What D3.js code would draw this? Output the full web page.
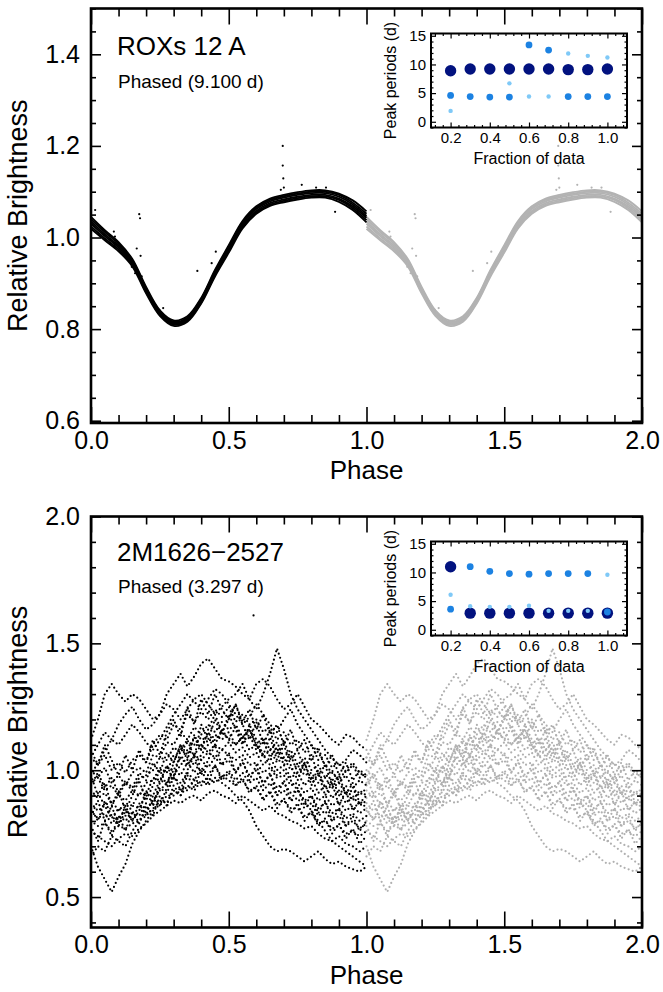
<!DOCTYPE html>
<html><head><meta charset="utf-8">
<script src="https://cdn.jsdelivr.net/npm/d3@7"></script>
<style>
html,body{margin:0;padding:0;background:#fff;}
svg{display:block;}
text{font-family:"Liberation Sans",Arial,Helvetica,sans-serif;fill:#000;}
</style></head><body>
<svg width="663" height="992"></svg>
<script>
// ================= DATA =================
// --- panel 1: ROXs 12 A, phased 9.100 d (several cycles forming a tight band)
const topTitle = "ROXs 12 A";
const topSub = "Phased (9.100 d)";
const topPhase = [0,0.05,0.1,0.15,0.2,0.25,0.3,0.35,0.4,0.45,0.5,0.55,0.6,0.65,0.7,0.75,0.8,0.85,0.9,0.95,1.0];
const topCycle1 = [1.045,1.016,0.990,0.953,0.892,0.841,0.819,0.828,0.868,0.929,0.983,1.036,1.068,1.085,1.093,1.099,1.103,1.103,1.096,1.081,1.057];
const topCycle2 = [1.040,1.012,0.986,0.950,0.889,0.839,0.816,0.825,0.866,0.926,0.980,1.033,1.065,1.082,1.090,1.096,1.100,1.100,1.093,1.076,1.052];
const topCycle3 = [1.035,1.007,0.982,0.947,0.886,0.836,0.814,0.823,0.863,0.923,0.977,1.030,1.062,1.079,1.087,1.093,1.097,1.097,1.089,1.072,1.047];
const topCycle4 = [1.030,1.003,0.978,0.943,0.884,0.834,0.812,0.821,0.861,0.921,0.973,1.026,1.058,1.075,1.083,1.089,1.093,1.093,1.085,1.068,1.043];
const topCycle5 = [1.024,0.998,0.974,0.940,0.881,0.831,0.810,0.819,0.858,0.918,0.970,1.023,1.055,1.072,1.080,1.086,1.090,1.090,1.082,1.064,1.038];
const topCycle6 = [1.019,0.994,0.970,0.937,0.878,0.829,0.807,0.816,0.856,0.915,0.967,1.020,1.052,1.069,1.077,1.083,1.087,1.087,1.078,1.060,1.033];
const topOutPhase = [0.696,0.696,0.698,0.700,0.689,0.175,0.178,0.166,0.180,0.083,0.087,0.015,0.136,0.148,0.160,0.184,0.190,0.204,0.248,0.262,0.386,0.453,0.438,0.765,0.817,0.853,0.886];
const topOutValue = [1.200,1.157,1.129,1.109,1.104,1.051,1.042,0.976,0.960,1.013,1.002,1.060,0.951,0.936,0.922,0.915,0.900,0.878,0.842,0.846,0.927,0.969,0.944,1.115,1.109,1.109,1.056];
const topYTicks = [0.6,0.8,1.0,1.2,1.4];

// inset 1: peak periods vs fraction of data
const fractions = [0.2,0.3,0.4,0.5,0.6,0.7,0.8,0.9,1.0];
const topPeak1 = [8.9,9.2,9.2,9.2,9.2,9.2,9.1,9.1,9.2];
const topPeak2 = [4.6,4.4,4.3,4.3,13.4,12.5,4.4,4.4,4.4];
const topPeak3 = [1.9,null,null,6.7,4.4,4.4,11.9,11.5,11.2];

// --- panel 2: 2M1626-2527, phased 3.297 d (noisy cycles)
const botTitle = "2M1626\u22122527";
const botSub = "Phased (3.297 d)";
const botPhase = [0,0.025,0.05,0.075,0.1,0.125,0.15,0.175,0.2,0.225,0.25,0.275,0.3,0.325,0.35,0.375,0.4,0.425,0.45,0.475,0.5,0.525,0.55,0.575,0.6,0.625,0.65,0.675,0.7,0.725,0.75,0.775,0.8,0.825,0.85,0.875,0.9,0.925,0.95,0.975,1.0];
const botCycleA = [1.12,1.20,1.30,1.34,1.30,1.27,1.30,1.28,1.24,1.20,1.22,1.30,1.34,1.38,1.33,1.37,1.42,1.44,1.40,1.36,1.35,1.33,1.30,1.28,1.34,1.36,1.33,1.28,1.24,1.26,1.30,1.25,1.20,1.18,1.15,1.12,1.10,1.14,1.13,1.10,1.08];
const botCycleB = [1.05,1.10,1.15,1.12,1.18,1.22,1.25,1.20,1.16,1.18,1.22,1.26,1.24,1.20,1.24,1.28,1.30,1.26,1.22,1.25,1.28,1.30,1.34,1.28,1.24,1.30,1.38,1.48,1.40,1.30,1.24,1.20,1.16,1.12,1.08,1.05,1.02,1.04,1.08,1.06,1.03];
const botCycleC = [1.05,1.02,1.06,1.00,1.03,0.99,1.04,1.06,1.03,1.10,1.14,1.12,1.18,1.16,1.22,1.19,1.23,1.20,1.24,1.21,1.25,1.19,1.22,1.18,1.20,1.15,1.17,1.12,1.15,1.10,1.12,1.07,1.10,1.04,1.06,1.01,1.03,0.99,1.02,0.97,0.99];
const botCycleD = [1.00,0.97,1.01,0.95,0.98,0.94,0.99,1.01,0.99,1.06,1.05,1.11,1.10,1.15,1.12,1.17,1.14,1.18,1.15,1.19,1.16,1.18,1.13,1.16,1.10,1.13,1.08,1.11,1.05,1.08,1.02,1.05,1.00,1.02,0.97,1.00,0.95,0.98,0.93,0.96,0.94];
const botCycleE = [0.95,0.97,0.92,0.94,0.90,0.95,0.92,0.97,0.98,1.00,1.05,1.04,1.09,1.07,1.11,1.10,1.13,1.11,1.14,1.12,1.15,1.10,1.13,1.08,1.10,1.05,1.08,1.03,1.05,1.00,1.02,0.98,0.99,0.95,0.97,0.93,0.95,0.91,0.92,0.90,0.93];
const botCycleF = [0.92,0.89,0.91,0.87,0.90,0.88,0.92,0.90,0.95,0.96,1.01,0.99,1.06,1.04,1.08,1.06,1.10,1.07,1.10,1.08,1.11,1.07,1.09,1.05,1.07,1.02,1.05,1.00,1.02,0.97,0.99,0.94,0.97,0.91,0.94,0.89,0.92,0.87,0.90,0.86,0.88];
const botCycleG = [0.89,0.91,0.86,0.88,0.84,0.87,0.86,0.91,0.90,0.97,0.96,1.01,1.00,1.05,1.02,1.06,1.04,1.07,1.05,1.08,1.06,1.04,1.06,1.02,1.03,0.99,1.01,0.97,0.98,0.94,0.95,0.91,0.93,0.88,0.90,0.86,0.88,0.84,0.86,0.83,0.85];
const botCycleH = [0.87,0.84,0.86,0.81,0.85,0.82,0.86,0.85,0.90,0.90,0.96,0.95,1.00,0.98,1.03,0.99,1.04,1.01,1.05,1.02,1.04,0.99,1.03,0.98,1.00,0.95,0.98,0.93,0.95,0.91,0.92,0.88,0.90,0.85,0.87,0.83,0.85,0.81,0.83,0.80,0.82];
const botCycleI = [0.84,0.81,0.83,0.79,0.82,0.80,0.83,0.82,0.87,0.86,0.93,0.91,0.97,0.95,0.99,0.96,1.01,0.98,1.02,0.97,1.00,0.96,0.99,0.95,0.97,0.92,0.95,0.90,0.92,0.88,0.89,0.85,0.87,0.82,0.84,0.80,0.82,0.78,0.80,0.77,0.79];
const botCycleJ = [0.80,0.78,0.79,0.76,0.78,0.77,0.79,0.80,0.82,0.85,0.86,0.90,0.90,0.93,0.92,0.96,0.94,0.97,0.95,0.98,0.96,0.94,0.96,0.92,0.93,0.89,0.91,0.87,0.88,0.85,0.85,0.82,0.83,0.79,0.80,0.77,0.78,0.75,0.76,0.74,0.76];
const botCycleK = [0.70,0.62,0.57,0.52,0.58,0.63,0.71,0.76,0.80,0.84,0.88,0.87,0.92,0.90,0.94,0.92,0.96,0.94,0.97,0.95,0.93,0.90,0.88,0.84,0.78,0.74,0.70,0.68,0.69,0.68,0.66,0.64,0.66,0.68,0.65,0.63,0.64,0.62,0.61,0.60,0.62];
const botCycleL = [0.98,1.03,1.08,1.12,1.10,1.14,1.18,1.15,1.11,1.08,1.12,1.17,1.22,1.26,1.30,1.27,1.24,1.28,1.32,1.30,1.26,1.22,1.18,1.21,1.26,1.22,1.18,1.15,1.20,1.24,1.18,1.14,1.10,1.07,1.02,0.99,0.96,1.00,1.03,0.99,0.97];
const botCycleM = [0.76,0.74,0.72,0.70,0.73,0.75,0.74,0.77,0.79,0.82,0.84,0.86,0.88,0.87,0.89,0.90,0.88,0.91,0.92,0.90,0.89,0.87,0.90,0.88,0.86,0.84,0.86,0.83,0.82,0.80,0.79,0.77,0.78,0.75,0.73,0.72,0.74,0.71,0.70,0.68,0.70];
const botCycleN = [0.66,0.70,0.68,0.74,0.72,0.70,0.76,0.80,0.84,0.88,0.92,0.95,0.98,1.02,1.05,1.02,1.06,1.10,1.12,1.15,1.12,1.10,1.13,1.16,1.10,1.06,1.02,0.98,1.00,0.96,0.92,0.88,0.84,0.80,0.76,0.72,0.70,0.68,0.66,0.64,0.62];
const botCycleO = [0.85,0.80,0.88,0.82,0.79,0.86,0.80,0.84,0.92,0.86,0.95,1.02,0.96,1.08,1.12,1.05,1.18,1.12,1.20,1.14,1.22,1.16,1.10,1.18,1.12,1.06,1.13,1.04,1.10,1.02,0.96,1.03,0.94,0.99,0.90,0.95,0.86,0.92,0.84,0.88,0.85];
const botCycleP = [0.98,0.90,0.95,0.86,0.92,0.84,0.90,0.96,0.88,0.94,1.00,0.94,1.03,1.10,1.04,1.14,1.08,1.16,1.22,1.15,1.20,1.26,1.18,1.12,1.19,1.10,1.16,1.06,1.12,1.04,1.08,1.00,1.06,0.98,1.02,0.94,0.98,0.90,0.95,0.87,0.90];
const botCycleQ = [0.82,0.88,0.80,0.86,0.78,0.84,0.80,0.87,0.82,0.90,0.86,0.93,0.98,0.92,1.00,1.06,0.98,1.04,1.10,1.02,1.07,0.99,1.04,0.96,1.02,0.94,0.99,0.90,0.96,0.88,0.93,0.86,0.90,0.83,0.88,0.80,0.85,0.78,0.82,0.76,0.80];
const botCycleR = [1.08,1.02,1.10,1.04,0.98,1.06,1.00,1.08,1.03,1.12,1.06,1.15,1.20,1.13,1.25,1.18,1.28,1.22,1.30,1.24,1.20,1.26,1.19,1.24,1.16,1.22,1.14,1.18,1.10,1.16,1.08,1.12,1.04,1.09,1.01,1.06,0.98,1.03,0.96,1.00,0.98];
const botCycleS = [0.78,0.72,0.80,0.74,0.82,0.76,0.84,0.79,0.86,0.82,0.90,0.86,0.94,0.90,0.98,0.93,1.00,0.95,1.02,0.96,0.99,0.94,0.97,0.91,0.94,0.88,0.92,0.85,0.89,0.83,0.87,0.80,0.84,0.78,0.81,0.75,0.79,0.73,0.77,0.71,0.74];
const botCycleT = [0.94,0.99,0.93,0.97,0.91,0.96,0.93,0.99,0.96,1.03,0.99,1.07,1.03,1.10,1.06,1.13,1.08,1.15,1.10,1.16,1.12,1.17,1.11,1.14,1.08,1.12,1.05,1.09,1.02,1.06,0.99,1.03,0.96,1.00,0.93,0.97,0.90,0.94,0.88,0.92,0.90];
const botOutPhase = [0.59];
const botOutValue = [1.61];
const botYTicks = [0.5,1.0,1.5,2.0];

// inset 2
const botPeak1 = [11.0,2.9,2.9,2.9,2.9,2.9,2.9,2.9,2.9];
const botPeak2 = [3.6,11.0,10.2,9.8,9.7,9.8,9.8,9.8,3.1];
const botPeak3 = [6.1,4.1,4.0,4.0,4.2,3.3,3.3,3.3,9.6];

// shared ticks
const phaseTicks = [0,0.5,1.0,1.5,2.0];
const fracTicks = [0.2,0.4,0.6,0.8,1.0];
const periodTicks = [0,5,10,15];

// ================= DRAWING =================
const svg = d3.select("svg");
const X0 = 91, X1 = 642;
const GRAY = "#b3b3b3";
const NAVY = "#02127f", BLUE = "#1c82e2", LIGHT = "#7fc9f7";

function axesBox(g, x, y, opt) {
  const [yb, yt] = y.range();
  const [xa, xb] = x.range();
  const xMinor = d3.range(opt.xMinLo, opt.xMinHi + 1e-9, opt.xMinStep).filter(v => !opt.xTicks.some(t => Math.abs(t - v) < 1e-6));
  const yMinor = d3.range(opt.yMinLo, opt.yMinHi + 1e-9, opt.yMinStep).filter(v => !opt.yTicks.some(t => Math.abs(t - v) < 1e-6) && v >= y.domain()[0] - 1e-9 && v <= y.domain()[1] + 1e-9);
  const style = sel => { sel.select(".domain").remove(); sel.selectAll("line").attr("stroke", "#000").attr("stroke-width", opt.tsw); sel.selectAll("text").attr("font-size", opt.fs).attr("font-family", "Liberation Sans, Arial, sans-serif").attr("fill", "#000"); };
  g.append("g").attr("transform", `translate(0,${yb})`)
    .call(d3.axisBottom(x).tickValues(opt.xTicks).tickSize(-opt.xl).tickPadding(opt.xpad).tickFormat(opt.xfmt)).call(style);
  g.append("g").attr("transform", `translate(0,${yb})`)
    .call(d3.axisBottom(x).tickValues(xMinor).tickSize(-opt.xml).tickFormat("")).call(style);
  g.append("g").attr("transform", `translate(0,${yt})`)
    .call(d3.axisTop(x).tickValues(opt.xTicks).tickSize(-opt.xl).tickFormat("")).call(style);
  g.append("g").attr("transform", `translate(0,${yt})`)
    .call(d3.axisTop(x).tickValues(xMinor).tickSize(-opt.xml).tickFormat("")).call(style);
  g.append("g").attr("transform", `translate(${xa},0)`)
    .call(d3.axisLeft(y).tickValues(opt.yTicks).tickSize(-opt.yl).tickPadding(opt.ypad).tickFormat(opt.yfmt)).call(style);
  g.append("g").attr("transform", `translate(${xa},0)`)
    .call(d3.axisLeft(y).tickValues(yMinor).tickSize(-opt.yml).tickFormat("")).call(style);
  g.append("g").attr("transform", `translate(${xb},0)`)
    .call(d3.axisRight(y).tickValues(opt.yTicks).tickSize(-opt.yl).tickFormat("")).call(style);
  g.append("g").attr("transform", `translate(${xb},0)`)
    .call(d3.axisRight(y).tickValues(yMinor).tickSize(-opt.yml).tickFormat("")).call(style);
  g.append("rect").attr("x", xa).attr("y", yt).attr("width", xb - xa).attr("height", yb - yt)
    .attr("fill", "none").attr("stroke", "#000").attr("stroke-width", opt.bsw);
}

function mainPanel(cfg) {
  const g = svg.append("g");
  const x = d3.scaleLinear().domain([0, 2]).range([X0, X1]);
  const y = d3.scaleLinear().domain(cfg.yDomain).range(cfg.yRange);
  const clipId = "clip" + cfg.id;
  svg.append("defs").append("clipPath").attr("id", clipId).append("rect")
    .attr("x", X0).attr("y", cfg.yRange[1]).attr("width", X1 - X0).attr("height", cfg.yRange[0] - cfg.yRange[1]);
  const data = g.append("g").attr("clip-path", `url(#${clipId})`);
  cfg.drawData(data, x, y);
  axesBox(g, x, y, {
    xTicks: phaseTicks, xMinLo: 0, xMinHi: 2, xMinStep: 0.1,
    yTicks: cfg.yTicks, yMinLo: cfg.yMinLo, yMinHi: cfg.yMinHi, yMinStep: cfg.yMinStep,
    xl: 16, xml: 8, yl: 10, yml: 5, tsw: 1.6, bsw: 2.6, fs: 25, xpad: 8, ypad: 11,
    xfmt: d3.format(".1f"), yfmt: d3.format(".1f")
  });
  const yb = cfg.yRange[0], yt = cfg.yRange[1];
  g.append("text").attr("x", (X0 + X1) / 2).attr("y", yb + 56).attr("text-anchor", "middle")
    .attr("font-size", 26).text("Phase");
  g.append("text").attr("transform", `translate(27,${(yb + yt) / 2}) rotate(-90)`)
    .attr("text-anchor", "middle").attr("font-size", 27).text("Relative Brightness");
  g.append("text").attr("x", 117).attr("y", yt + cfg.titleDy).attr("font-size", 26).text(cfg.title);
  g.append("text").attr("x", 118).attr("y", yt + cfg.subDy).attr("font-size", 19).text(cfg.sub);
  insetPanel(g, yt + 25, cfg.peaks);
}

function insetPanel(g, top, peaks) {
  const x = d3.scaleLinear().domain([0.1, 1.1]).range([431, 627]);
  const y = d3.scaleLinear().domain([-1, 15.4]).range([top + 94, top]);
  g.append("rect").attr("x", 431).attr("y", top).attr("width", 196).attr("height", 94).attr("fill", "#fff");
  const layers = [
    {vals: peaks[0], r: 5.7, c: NAVY},
    {vals: peaks[1], r: 3.4, c: BLUE},
    {vals: peaks[2], r: 2.2, c: LIGHT}
  ];
  layers.forEach(L => {
    g.append("g").selectAll("circle")
      .data(fractions.map((f, i) => ({f, p: L.vals[i]})).filter(d => d.p !== null))
      .join("circle").attr("cx", d => x(d.f)).attr("cy", d => y(d.p)).attr("r", L.r).attr("fill", L.c);
  });
  axesBox(g, x, y, {
    xTicks: fracTicks, xMinLo: 0.12, xMinHi: 1.08, xMinStep: 0.04,
    yTicks: periodTicks, yMinLo: -1, yMinHi: 15, yMinStep: 1,
    xl: 5, xml: 2.5, yl: 5, yml: 2.5, tsw: 1.2, bsw: 2, fs: 15, xpad: 5, ypad: 5,
    xfmt: d3.format(".1f"), yfmt: d3.format("d")
  });
  g.append("text").attr("x", 529).attr("y", top + 130).attr("text-anchor", "middle")
    .attr("font-size", 16).text("Fraction of data");
  g.append("text").attr("transform", `translate(396,${top + 47}) rotate(-90)`)
    .attr("text-anchor", "middle").attr("font-size", 16).text("Peak periods (d)");
}

// ---- panel 1
mainPanel({
  id: 1, yDomain: [0.595, 1.5], yRange: [423, 8.5], yTicks: topYTicks,
  yMinLo: 0.6, yMinHi: 1.5, yMinStep: 0.05,
  title: topTitle, sub: topSub, titleDy: 46.5, subDy: 79.5,
  peaks: [topPeak1, topPeak2, topPeak3],
  drawData: (g, x, y) => {
    const cycles = [topCycle1, topCycle2, topCycle3, topCycle4, topCycle5, topCycle6];
    [[1, GRAY], [0, "#000"]].forEach(([shift, col]) => {
      const line = d3.line().x((d, i) => x(topPhase[i] + shift)).y(d => y(d)).curve(d3.curveCatmullRom.alpha(0.5));
      g.append("g").selectAll("path").data(cycles).join("path")
        .attr("d", line).attr("fill", "none").attr("stroke", col).attr("stroke-width", 1.9);
      g.append("g").selectAll("circle").data(topOutPhase.map((p, i) => [p, topOutValue[i]])).join("circle")
        .attr("cx", d => x(d[0] + shift)).attr("cy", d => y(d[1])).attr("r", 1.1).attr("fill", col);
    });
  }
});

// ---- panel 2
mainPanel({
  id: 2, yDomain: [0.38, 2.0], yRange: [927.5, 516.5], yTicks: botYTicks,
  yMinLo: 0.4, yMinHi: 2.0, yMinStep: 0.1,
  title: botTitle, sub: botSub, titleDy: 44, subDy: 76.5,
  peaks: [botPeak1, botPeak2, botPeak3],
  drawData: (g, x, y) => {
    const cycles = [botCycleA, botCycleB, botCycleC, botCycleD, botCycleE, botCycleF, botCycleG,
                    botCycleH, botCycleI, botCycleJ, botCycleK, botCycleL, botCycleM, botCycleN,
                    botCycleO, botCycleP, botCycleQ, botCycleR, botCycleS, botCycleT];
    [[1, "#b0b0b0"], [0, "#000"]].forEach(([shift, col]) => {
      const line = d3.line().x((d, i) => x(botPhase[i] + shift)).y(d => y(d));
      g.append("g").selectAll("path").data(cycles).join("path")
        .attr("d", line).attr("fill", "none").attr("stroke", col).attr("stroke-width", 2.2)
        .attr("stroke-linecap", "round").attr("stroke-dasharray", "0 4.3");
      g.append("g").selectAll("circle").data(botOutPhase.map((p, i) => [p, botOutValue[i]])).join("circle")
        .attr("cx", d => x(d[0] + shift)).attr("cy", d => y(d[1])).attr("r", 1.1).attr("fill", col);
    });
  }
});
</script>
</body></html>
